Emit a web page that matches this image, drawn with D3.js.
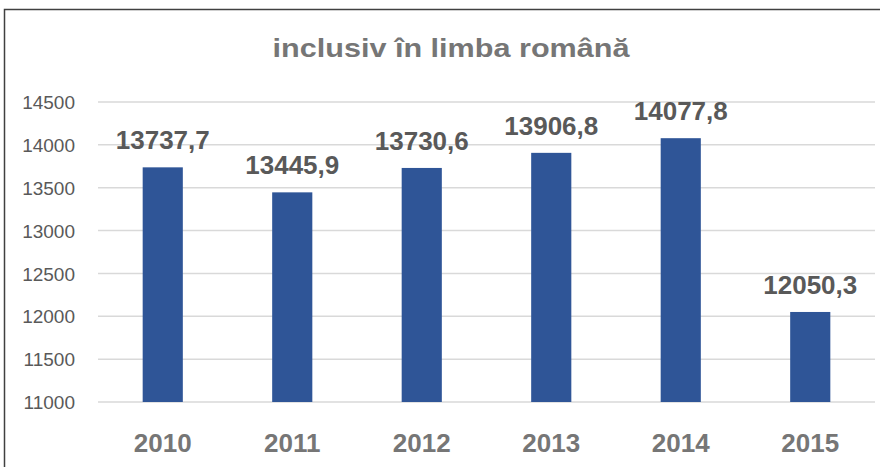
<!DOCTYPE html>
<html><head><meta charset="utf-8">
<script src="https://cdn.jsdelivr.net/npm/d3@7"></script>
<style>body{margin:0;background:#fff}svg{display:block}</style>
</head><body>
<script>
const categories = ["2010","2011","2012","2013","2014","2015"];
const values = [13737.7, 13445.9, 13730.6, 13906.8, 14077.8, 12050.3];
const yTicks = [11000, 11500, 12000, 12500, 13000, 13500, 14000, 14500];
const title = "inclusiv în limba română";

const W = 880, H = 467;
const svg = d3.select("body").append("svg").attr("width", W).attr("height", H);
svg.append("rect").attr("width", W).attr("height", H).attr("fill", "#fff");
svg.append("rect").attr("x", 4.5).attr("y", 9.5).attr("width", 1000).attr("height", 1000)
  .attr("fill", "none").attr("stroke", "#404040").attr("stroke-width", 1.5);

const x = d3.scaleBand().domain(categories).range([98, 875]).paddingInner(0.69).paddingOuter(0.345);
const y = d3.scaleLinear().domain([11000, 14500]).range([402, 102]);

const font = "'Liberation Sans', Arial, sans-serif";

// grid
svg.append("g").selectAll("line").data(yTicks).join("line")
  .attr("x1", 98).attr("x2", 875).attr("y1", d => y(d)).attr("y2", d => y(d))
  .attr("stroke", "#d9d9d9").attr("stroke-width", 1.5);

// y axis
const yAxis = d3.axisLeft(y).tickValues(yTicks).tickSize(0).tickPadding(0).tickFormat(d3.format("d"));
const ya = svg.append("g").attr("transform", "translate(75,0)").call(yAxis);
ya.select(".domain").remove();
ya.selectAll("text").attr("font-family", font).attr("font-size", 19).attr("fill", "#595959").attr("dy", "0.35em");

// bars
svg.append("g").selectAll("rect").data(values).join("rect")
  .attr("x", (d, i) => x(categories[i]))
  .attr("width", x.bandwidth())
  .attr("y", d => y(d))
  .attr("height", d => y(11000) - y(d))
  .attr("fill", "#2f5597");

// labels
const fmt = v => d3.format(".1f")(v).replace(".", ",");
svg.append("g").selectAll("text").data(values).join("text")
  .attr("x", (d, i) => x(categories[i]) + x.bandwidth() / 2)
  .attr("y", d => y(d) - 18)
  .attr("text-anchor", "middle")
  .attr("font-family", font).attr("font-weight", "bold").attr("font-size", 26)
  .attr("fill", "#595959")
  .text(fmt);

// x axis
const xAxis = d3.axisBottom(x).tickSize(0).tickPadding(0);
const xa = svg.append("g").attr("transform", "translate(0,452)").call(xAxis);
xa.select(".domain").remove();
xa.selectAll("text").attr("font-family", font).attr("font-weight", "bold").attr("font-size", 26)
  .attr("fill", "#767676").attr("dy", 0);

// title
svg.append("text").attr("x", 451).attr("y", 57).attr("text-anchor", "middle")
  .attr("font-family", font).attr("font-weight", "bold").attr("font-size", 26)
  .attr("fill", "#767676").attr("textLength", 357).attr("lengthAdjust", "spacingAndGlyphs")
  .text(title);
</script>
</body></html>
